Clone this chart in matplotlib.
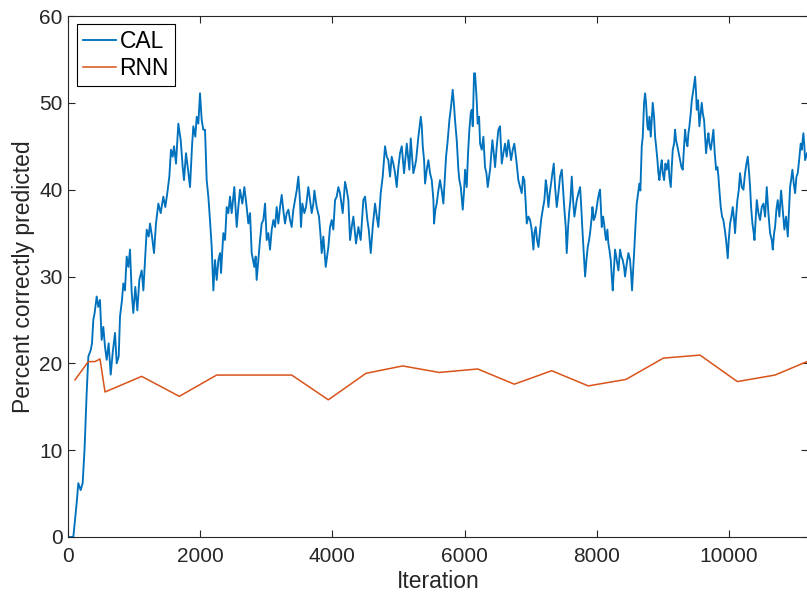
import matplotlib
matplotlib.use("Agg")
import matplotlib.pyplot as plt

plt.rcParams['font.family'] = ['Liberation Sans', 'DejaVu Sans']

# CAL: percent correctly predicted vs. training iteration
cal_iter = [
    0, 80, 91, 131, 156, 192, 222, 252, 282, 308, 343, 363, 383, 403, 434, 459, 484, 509, 534, 560,
    585, 615, 646, 676, 711, 737, 767, 787, 817, 837, 862, 888, 913, 938, 964, 988, 1018, 1049, 1079, 1115,
    1140, 1165, 1191, 1221, 1241, 1271, 1301, 1331, 1367, 1402, 1442, 1472, 1502, 1533, 1558, 1584, 1604, 1634, 1669, 1705,
    1735, 1755, 1785, 1816, 1846, 1876, 1896, 1926, 1947, 1972, 1997, 2023, 2047, 2073, 2098, 2123, 2148, 2174, 2199, 2224,
    2250, 2275, 2300, 2315, 2350, 2376, 2401, 2426, 2451, 2476, 2516, 2552, 2577, 2602, 2637, 2668, 2703, 2728, 2754, 2779,
    2819, 2839, 2854, 2880, 2905, 2930, 2955, 2981, 3006, 3031, 3056, 3082, 3107, 3132, 3157, 3182, 3208, 3233, 3258, 3283,
    3309, 3334, 3359, 3384, 3409, 3435, 3460, 3485, 3506, 3525, 3545, 3576, 3601, 3636, 3662, 3687, 3712, 3727, 3762, 3797,
    3818, 3838, 3863, 3899, 3919, 3939, 3964, 3989, 4014, 4040, 4065, 4090, 4115, 4156, 4191, 4216, 4241, 4267, 4292, 4317,
    4357, 4393, 4428, 4468, 4494, 4529, 4550, 4580, 4610, 4645, 4671, 4695, 4731, 4761, 4796, 4822, 4846, 4872, 4897, 4922,
    4948, 4973, 4998, 5023, 5049, 5084, 5125, 5149, 5164, 5185, 5205, 5225, 5246, 5266, 5286, 5301, 5337, 5352, 5367, 5387,
    5402, 5427, 5452, 5477, 5503, 5528, 5538, 5558, 5578, 5603, 5628, 5654, 5679, 5699, 5719, 5740, 5770, 5795, 5820, 5841,
    5855, 5881, 5906, 5921, 5942, 5972, 5992, 6007, 6032, 6052, 6072, 6093, 6108, 6123, 6143, 6158, 6183, 6198, 6219, 6234,
    6259, 6284, 6309, 6330, 6350, 6385, 6420, 6441, 6461, 6486, 6511, 6536, 6562, 6587, 6612, 6637, 6662, 6683, 6703, 6728,
    6752, 6788, 6813, 6839, 6864, 6884, 6904, 6925, 6940, 6965, 6990, 7015, 7041, 7056, 7076, 7096, 7117, 7137, 7157, 7182,
    7207, 7228, 7243, 7268, 7288, 7308, 7328, 7349, 7369, 7394, 7419, 7444, 7470, 7490, 7510, 7530, 7545, 7566, 7581, 7601,
    7621, 7641, 7661, 7682, 7697, 7722, 7747, 7762, 7782, 7803, 7823, 7843, 7863, 7883, 7898, 7924, 7934, 7954, 7974, 7994,
    8014, 8034, 8049, 8075, 8095, 8110, 8125, 8140, 8160, 8175, 8190, 8211, 8226, 8241, 8261, 8276, 8302, 8327, 8352, 8372,
    8392, 8412, 8427, 8453, 8478, 8503, 8518, 8533, 8553, 8569, 8584, 8604, 8624, 8644, 8659, 8680, 8695, 8715, 8730, 8745,
    8765, 8780, 8796, 8816, 8831, 8846, 8866, 8882, 8897, 8917, 8932, 8947, 8967, 8983, 8998, 9018, 9038, 9058, 9083, 9098,
    9119, 9134, 9149, 9169, 9184, 9199, 9219, 9240, 9260, 9280, 9300, 9320, 9336, 9351, 9371, 9386, 9401, 9421, 9437, 9461,
    9487, 9502, 9512, 9532, 9552, 9572, 9588, 9603, 9623, 9638, 9653, 9673, 9689, 9704, 9724, 9744, 9764, 9784, 9805, 9825,
    9840, 9855, 9875, 9895, 9915, 9936, 9956, 9981, 9996, 10016, 10036, 10057, 10077, 10092, 10107, 10127, 10147, 10167, 10193, 10218,
    10243, 10264, 10284, 10304, 10319, 10334, 10354, 10374, 10385, 10405, 10420, 10445, 10470, 10495, 10520, 10546, 10571, 10596, 10621, 10647,
    10662, 10682, 10697, 10717, 10737, 10762, 10788, 10813, 10838, 10863, 10889, 10909, 10924, 10939, 10959, 10980, 11000, 11020, 11040, 11050,
    11070, 11085, 11100, 11125, 11140, 11151, 11166, 11181,
]
cal_pct = [
    0.0, 0.0, 0.8, 3.9, 6.2, 5.4, 6.2, 10.4, 16.5, 20.8, 21.5, 22.3, 25.0, 25.8, 27.7, 26.5, 27.3, 22.7, 24.2, 21.9,
    20.4, 22.3, 18.7, 21.2, 23.5, 20.0, 20.8, 25.4, 27.3, 29.2, 28.4, 32.3, 31.1, 33.1, 28.1, 25.8, 28.8, 26.1, 29.6, 30.7,
    28.4, 31.9, 35.4, 34.6, 36.1, 34.6, 32.7, 36.1, 38.4, 37.3, 39.2, 38.0, 39.6, 41.5, 44.6, 43.8, 45.0, 43.0, 47.6, 45.7,
    42.6, 41.1, 44.2, 42.3, 40.3, 45.0, 47.3, 46.1, 48.4, 47.6, 51.1, 48.0, 46.9, 46.9, 41.1, 39.2, 36.5, 33.4, 28.4, 31.9,
    29.6, 31.9, 32.7, 30.4, 35.0, 34.2, 38.0, 37.3, 39.2, 37.3, 40.3, 35.7, 38.0, 40.0, 38.4, 40.3, 38.0, 36.1, 37.3, 32.7,
    31.1, 32.3, 29.6, 31.9, 34.2, 36.1, 36.5, 38.4, 34.2, 35.0, 33.1, 35.4, 36.5, 35.7, 38.0, 36.1, 38.0, 39.4, 37.6, 36.1,
    37.3, 37.7, 36.5, 35.7, 37.7, 38.8, 39.9, 41.5, 39.2, 35.7, 38.4, 37.3, 38.0, 40.3, 38.8, 37.3, 38.4, 39.9, 38.0, 36.9,
    35.0, 32.7, 34.6, 31.1, 32.3, 33.4, 35.7, 36.5, 35.4, 38.8, 39.2, 40.3, 39.6, 37.3, 40.9, 40.0, 38.8, 34.2, 35.7, 36.9,
    33.8, 35.7, 34.2, 38.8, 39.2, 36.5, 35.4, 32.7, 35.7, 38.4, 36.9, 35.7, 39.6, 41.5, 45.0, 43.8, 43.4, 41.5, 43.8, 43.0,
    41.9, 40.3, 42.6, 44.2, 45.0, 41.9, 45.3, 43.4, 42.3, 45.9, 43.8, 41.9, 42.6, 43.4, 45.0, 46.1, 48.4, 47.3, 45.0, 43.4,
    40.7, 42.3, 43.4, 41.9, 41.1, 38.8, 36.1, 37.7, 38.4, 39.9, 41.1, 39.9, 38.4, 41.1, 43.8, 45.3, 48.0, 49.6, 51.5, 49.6,
    48.0, 45.7, 42.3, 41.1, 40.3, 37.7, 39.9, 42.3, 40.3, 44.2, 46.9, 48.8, 49.2, 47.3, 53.4, 53.4, 50.3, 47.6, 48.4, 45.3,
    44.6, 46.1, 42.6, 41.9, 40.3, 42.3, 45.7, 44.2, 42.6, 45.0, 46.9, 47.3, 43.0, 44.2, 45.3, 43.8, 45.7, 44.6, 43.4, 44.6,
    45.3, 43.0, 41.1, 40.3, 39.6, 41.5, 41.1, 38.4, 36.1, 36.9, 36.5, 35.4, 33.1, 35.0, 35.7, 34.2, 33.4, 35.0, 36.5, 37.7,
    38.8, 41.1, 40.3, 38.0, 39.6, 40.7, 41.9, 43.0, 40.3, 38.0, 39.6, 41.5, 42.3, 39.9, 37.7, 35.7, 32.7, 35.7, 37.3, 38.8,
    41.5, 38.8, 36.9, 38.0, 38.8, 39.6, 40.3, 38.4, 35.4, 32.7, 30.0, 31.9, 33.4, 34.2, 35.0, 36.9, 38.0, 36.5, 36.9, 37.7,
    38.8, 39.6, 40.0, 35.7, 36.9, 36.1, 35.0, 34.2, 35.4, 33.8, 33.1, 31.9, 30.0, 28.4, 31.1, 33.1, 31.9, 30.7, 33.1, 32.3,
    31.9, 31.1, 30.0, 31.5, 32.7, 31.9, 30.4, 28.4, 31.1, 33.4, 35.7, 38.4, 39.6, 40.7, 39.9, 45.0, 46.1, 50.0, 51.1, 50.0,
    47.3, 46.9, 48.4, 46.1, 48.0, 50.0, 48.4, 46.1, 45.0, 43.4, 41.9, 41.1, 42.6, 43.4, 41.9, 41.1, 43.0, 42.3, 43.4, 41.5,
    40.3, 42.6, 44.6, 45.3, 46.9, 45.7, 45.0, 44.2, 43.4, 42.6, 42.3, 45.0, 46.9, 45.7, 45.0, 46.5, 47.3, 48.8, 50.3, 51.5,
    53.0, 51.1, 49.2, 50.3, 47.3, 48.8, 50.0, 48.8, 48.0, 46.1, 44.2, 45.7, 46.5, 45.3, 44.6, 45.7, 46.9, 44.2, 42.3, 42.6,
    41.5, 39.9, 38.0, 36.9, 36.5, 35.4, 34.2, 32.1, 34.2, 36.1, 36.9, 38.0, 36.5, 35.0, 36.9, 38.8, 39.9, 41.9, 40.3, 40.0,
    41.9, 43.0, 43.8, 41.9, 40.3, 38.0, 36.1, 35.0, 34.2, 36.9, 38.8, 37.3, 36.5, 38.0, 38.4, 36.9, 40.3, 37.3, 35.0, 34.2,
    33.1, 35.0, 35.7, 37.7, 38.8, 36.9, 39.9, 37.7, 35.4, 36.9, 34.6, 38.0, 40.3, 41.1, 42.3, 40.7, 39.6, 41.5, 41.9, 42.6,
    44.2, 45.3, 44.6, 46.5, 45.0, 43.4, 43.8, 44.2,
]

# RNN baseline, evaluated at checkpoints
rnn_iter = [106, 307, 408, 484, 560, 1114, 1684, 2249, 2810, 3384, 3938, 4508, 5063, 5617,
            6198, 6752, 7318, 7871, 8442, 9006, 9561, 10126, 10696, 11180]
rnn_pct = [18.1, 20.2, 20.2, 20.5, 16.7, 18.5, 16.2, 18.65, 18.65, 18.65, 15.8, 18.85, 19.7, 18.95,
           19.35, 17.6, 19.15, 17.4, 18.15, 20.6, 20.95, 17.9, 18.65, 20.2]

x_ticks = [0, 2000, 4000, 6000, 8000, 10000]
y_ticks = [0, 10, 20, 30, 40, 50, 60]

W, H = 807, 593
fig = plt.figure(figsize=(W / 100, H / 100), dpi=100)
ax = fig.add_axes([68 / W, (H - 537) / H, (808 - 68) / W, (537 - 16) / H])

ax.plot(cal_iter, cal_pct, color='#0072BD', lw=1.35, label='CAL')
ax.plot(rnn_iter, rnn_pct, color='#D95319', lw=1.1, label='RNN')

ax.set_xlim(0, 11195)
ax.set_ylim(0, 60)
ax.set_xticks(x_ticks)
ax.set_yticks(y_ticks)

axis_color = '#262626'
for s in ax.spines.values():
    s.set_color(axis_color)
    s.set_linewidth(0.8)
ax.tick_params(direction='in', length=5, width=0.8, colors=axis_color,
               labelsize=15, top=True, right=True)
ax.tick_params(axis='x', pad=7)
ax.tick_params(axis='y', pad=4)

ax.set_xlabel('Iteration', fontsize=16.5, color=axis_color, labelpad=3)
ax.set_ylabel('Percent correctly predicted', fontsize=16.5, color=axis_color, labelpad=3)

leg = ax.legend(loc='upper left', bbox_to_anchor=(9 / 740, 1 - 8 / 521), borderaxespad=0,
                fontsize=16.5, frameon=True, fancybox=False, framealpha=1,
                handlelength=1.45, handletextpad=0.15, labelspacing=0.2, borderpad=0.25)
leg.get_frame().set_edgecolor('black')
leg.get_frame().set_linewidth(0.8)

fig.savefig('out.png', dpi=100)
